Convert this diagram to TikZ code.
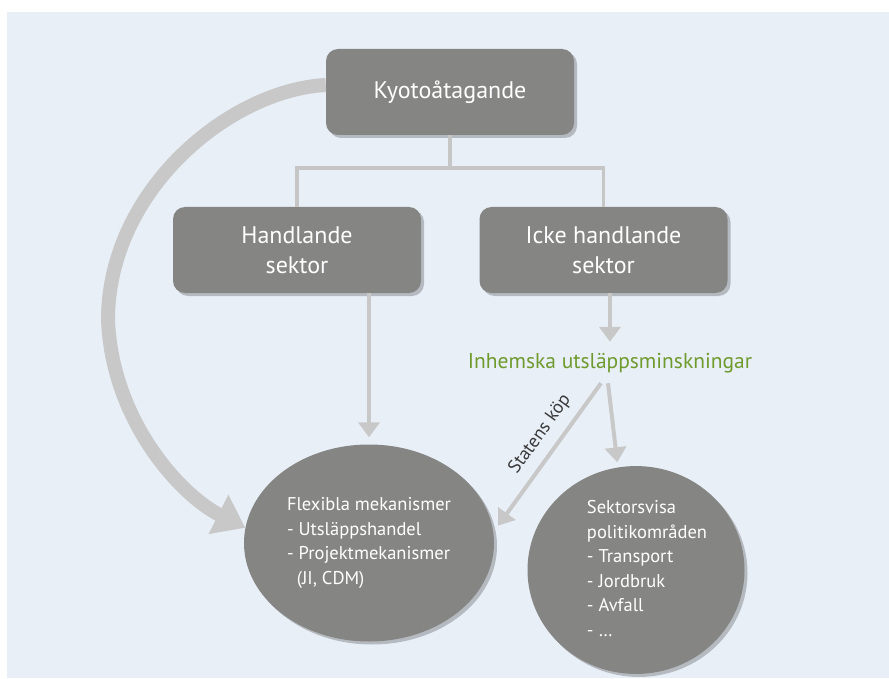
\documentclass[tikz,border=0pt]{standalone}
\usepackage{fontspec}
\setmainfont{PT Sans}
\usetikzlibrary{arrows.meta,shadows,shapes.geometric,calc}
\definecolor{bgblue}{HTML}{E8EFF7}
\definecolor{boxgray}{HTML}{858583}
\definecolor{arrowgray}{HTML}{C8C8C8}
\definecolor{treegray}{HTML}{C6C6C6}
\definecolor{greentext}{HTML}{6F9A2D}
\definecolor{darktext}{HTML}{3A3A3A}
\tikzset{
  sbox/.style={draw=none, fill=boxgray, rounded corners=12pt, minimum width=248pt, minimum height=86pt,
    text=white, align=center, font=\fontsize{24}{30}\selectfont, inner sep=0pt,
    drop shadow={shadow xshift=3pt, shadow yshift=-3pt, fill=black, opacity=0.22}},
  sell/.style={ellipse, draw=none, fill=boxgray, inner sep=0pt, text=white, align=left,
    font=\fontsize{18.5}{24.5}\selectfont,
    drop shadow={shadow xshift=3pt, shadow yshift=-3pt, fill=black, opacity=0.22}},
  treeline/.style={draw=treegray, line width=3.5pt},
  thinarrow/.style={draw=arrowgray, line width=4pt, -{Triangle[width=21pt,length=15pt]}},
  bigarrow/.style={draw=arrowgray, line width=14pt, -{Triangle[width=42pt,length=30pt]}},
}
\begin{document}
\begin{tikzpicture}[x=1pt,y=-1pt]
\useasboundingbox (0,0) rectangle (889,679);
\fill[bgblue] (7,12) rectangle (889,678);

\node[sbox] (kyo) at (450,92) {Kyotoåtagande};
\node[sbox] (hand) at (297,250) {Handlande\\sektor};
\node[sbox] (icke) at (603.5,250) {Icke handlande\\sektor};

\node[text=greentext, font=\fontsize{21.5}{26}\selectfont, inner sep=0pt, minimum height=40pt] (inh) at (610,363) {Inhemska utsläppsminskningar};

\node[sell, minimum width=250pt, minimum height=197pt] (flex) at (369,543)
  {Flexibla mekanismer\\- Utsläppshandel\\- Projektmekanismer\\\ \ (JI, CDM)};
\node[sell, minimum width=217pt, minimum height=195pt] (sek) at (636,570)
  {\hspace*{22pt}\begin{tabular}{@{}l@{}}Sektorsvisa\\politikområden\\- Transport\\- Jordbruk\\- Avfall\\- …\end{tabular}};

% tree
\draw[treeline] (kyo.south) -- ++(0,33) coordinate (j);
\draw[treeline] (hand.north) |- (j) -| (icke.north);

% arrows
\draw[thinarrow, shorten >=7pt] (flex.north |- hand.south) -- (flex.north);
\draw[thinarrow, shorten >=1pt] (icke.south -| inh.north) -- (inh.north);
\draw[thinarrow, shorten >=5pt] ([xshift=-2pt]inh.south) -- (sek.100);
\draw[thinarrow, shorten >=8pt] ([xshift=-9pt]inh.south) -- (flex.5)
  node[pos=0.42, sloped, above=9pt, text=darktext, font=\fontsize{18.5}{20}\selectfont, inner sep=0pt] {Statens köp};

\draw[bigarrow] ([yshift=7pt]kyo.west) .. controls (230,90) and (108,190) .. (108,320)
  .. controls (112,420) and (180,495) .. (flex.173);
\end{tikzpicture}
\end{document}
